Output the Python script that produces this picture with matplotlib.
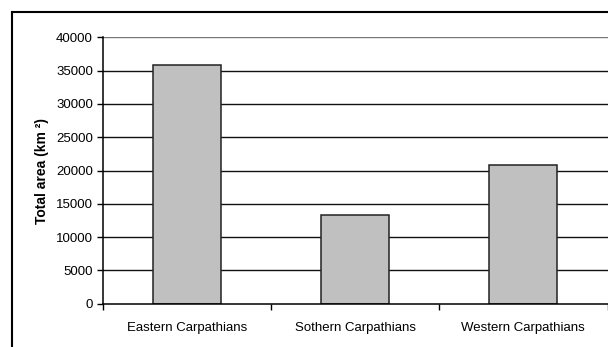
import numpy as np
import matplotlib
matplotlib.use("Agg")
import matplotlib.pyplot as plt
from matplotlib.lines import Line2D

plt.rcParams['font.family'] = ['Liberation Sans', 'DejaVu Sans']

regions = ["Eastern Carpathians", "Sothern Carpathians", "Western Carpathians"]
area_km2 = [35800, 13300, 20900]
y_ticks = [0, 5000, 10000, 15000, 20000, 25000, 30000, 35000, 40000]

W, H = 608, 347
fig = plt.figure(figsize=(W / 100, H / 100), dpi=100)
ax = fig.add_axes([102.7 / W, 1 - 303.7 / H, (607.5 - 102.7) / W, (303.7 - 37.3) / H])

x = np.arange(len(regions))
ax.bar(x, area_km2, width=0.405, color="#c0c0c0", edgecolor="#222222",
       linewidth=1.1, zorder=3)

# horizontal gridlines like the spreadsheet chart
for v in y_ticks[1:]:
    ax.axhline(v, color="#111111" if v < 40000 else "#777777", lw=1.0, zorder=1)

ax.set_xlim(-0.5, 2.5)
ax.set_ylim(0, 40000)
ax.set_yticks(y_ticks)
ax.set_yticklabels([str(v) for v in y_ticks], fontsize=9.5)
ax.set_xticks([-0.5, 0.5, 1.5, 2.5])
ax.set_xticklabels([])
ax.set_xticks(x, minor=True)
ax.set_xticklabels(regions, minor=True, fontsize=9.5)
ax.tick_params(axis="x", which="minor", length=0, pad=13)
ax.tick_params(axis="x", which="major", length=4, width=1, direction="out")
ax.tick_params(axis="y", length=4, width=1, direction="out", pad=3)

for s in ["top", "right"]:
    ax.spines[s].set_visible(False)
ax.spines["left"].set_linewidth(1.1)
ax.spines["bottom"].set_linewidth(1.1)
ax.spines["left"].set_zorder(4)
ax.spines["bottom"].set_zorder(4)

ax.set_ylabel("Total area (km ²)", fontsize=10, fontweight="bold", labelpad=5)

# outer chart frame, partly outside the image
fig.add_artist(Line2D([12 / W, 12 / W], [0, 1 - 11.5 / H], color="black", lw=1.5,
                      transform=fig.transFigure))
fig.add_artist(Line2D([12 / W, 1], [1 - 11.5 / H, 1 - 11.5 / H], color="black", lw=1.5,
                      transform=fig.transFigure))

fig.savefig("out.png", dpi=100)
